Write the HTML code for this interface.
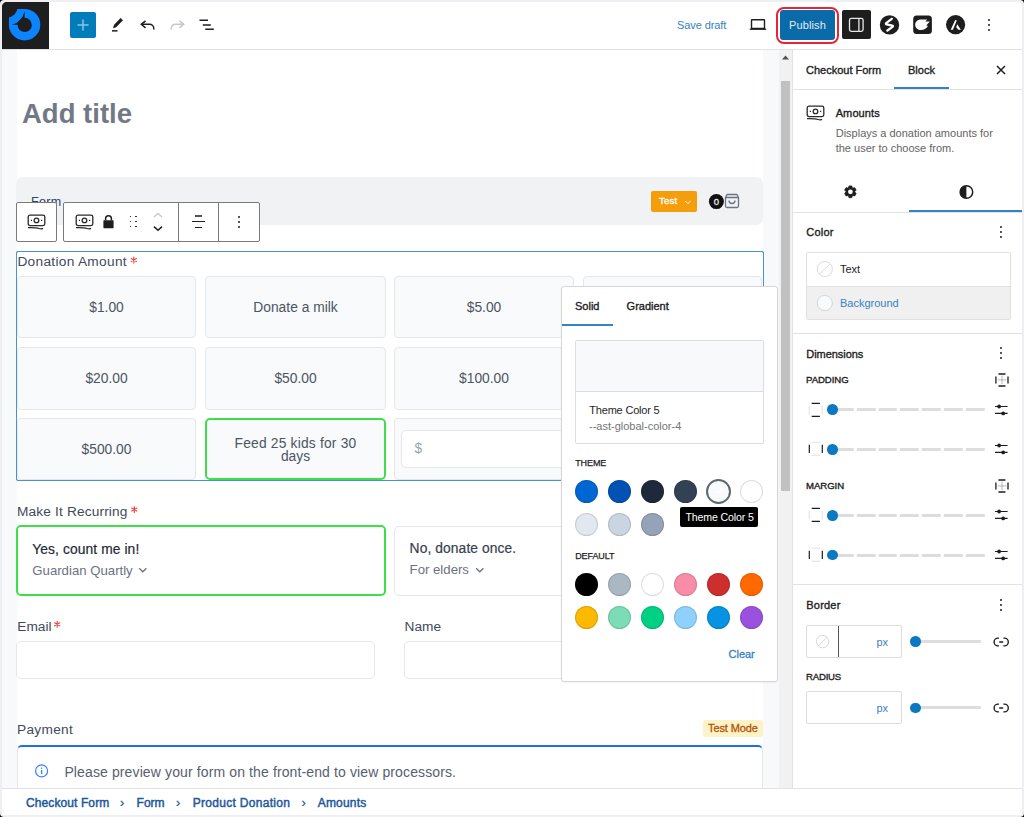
<!DOCTYPE html>
<html><head><meta charset="utf-8">
<style>
*{box-sizing:border-box;margin:0;padding:0}
html,body{width:1024px;height:817px;overflow:hidden}
body{font-family:"Liberation Sans",sans-serif;position:relative;background:#000}
.a{position:absolute}
.t{position:absolute;white-space:nowrap;line-height:1}
svg{position:absolute;overflow:visible}
</style></head><body>
<div class="a" style="left:0px;top:0px;width:1024px;height:817px;background:#efeff3;border-radius:4px"></div>
<div class="a" style="left:2px;top:2px;width:1020px;height:813px;background:#fff;border-radius:5px"></div>
<div class="a" style="left:2px;top:49px;width:1020px;height:1px;background:#e2e2e4"></div>
<svg style="left:2px;top:2px;overflow:hidden;border-top-left-radius:5px" width="47" height="47" viewBox="0 0 47 47"><rect width="47" height="47" fill="#1e1e1e"/><circle cx="22.6" cy="22.7" r="15.7" fill="#0a84ff"/><rect x="7" y="7" width="15.6" height="15.7" fill="#0a84ff"/><circle cx="5.2" cy="5.2" r="10.3" fill="#1e1e1e"/><path d="M9.8 22.7 Q19.8 20.8 22.6 9.2 L22.6 22.7 Z" fill="#1e1e1e"/><circle cx="22.7" cy="22.9" r="7.1" fill="#1e1e1e"/></svg>
<div class="a" style="left:70px;top:12px;width:26px;height:26px;background:#007cba;border-radius:2px"></div>
<svg style="left:70px;top:12px" width="26" height="26" viewBox="0 0 26 26"><path d="M13 7.5v11M7.5 13h11" stroke="#8cc4e6" stroke-width="1.5"/></svg>
<svg style="left:108px;top:14px" width="20" height="20" viewBox="0 0 20 20"><path d="M12.58 4.24 L14.62 6.16 L8.33 12.84 L5.4 14 L6.29 10.92 Z" fill="#1e1e1e" stroke="#1e1e1e" stroke-width="0.6" stroke-linejoin="round"/><rect x="4" y="16.1" width="5.5" height="1.5" fill="#1e1e1e"/></svg>
<svg style="left:138px;top:14px" width="20" height="20" viewBox="0 0 20 20"><path d="M7.5 6.8L3.3 10.3l4.2 3.5" fill="none" stroke="#1e1e1e" stroke-width="1.5"/><path d="M3.5 10.3H11.5a4.3 4.3 0 0 1 4.3 4.3V15.4" fill="none" stroke="#1e1e1e" stroke-width="1.5"/></svg>
<svg style="left:167px;top:14px" width="20" height="20" viewBox="0 0 20 20"><path d="M12.5 6.8l4.2 3.5-4.2 3.5" fill="none" stroke="#c7c7c7" stroke-width="1.5"/><path d="M16.5 10.3H8.5a4.3 4.3 0 0 0-4.3 4.3V15.4" fill="none" stroke="#c7c7c7" stroke-width="1.5"/></svg>
<svg style="left:196px;top:14px" width="22" height="22" viewBox="0 0 22 22"><path d="M3.5 6.3h8.5M6.8 11h8M9.3 15.3h8.5" stroke="#1e1e1e" stroke-width="1.5"/></svg>
<div class="t" style="left:677.0px;top:20.29px;font-size:11px;color:#3582c4;font-weight:400;letter-spacing:-0.1px;">Save draft</div>
<svg style="left:748px;top:16px" width="20" height="16" viewBox="0 0 20 16"><rect x="3.5" y="3.8" width="13" height="8.6" fill="none" stroke="#1e1e1e" stroke-width="1.4" rx="0.5"/><path d="M1.8 13.2h16.4" stroke="#1e1e1e" stroke-width="1.4"/></svg>
<div class="a" style="left:775.5px;top:6.5px;width:63px;height:37.5px;border:2.5px solid #ec2336;border-radius:8px"></div>
<div class="a" style="left:780px;top:10px;width:55px;height:30px;background:#0b6aa8;border-radius:3px"></div>
<div class="t" style="left:777.5px;width:60px;text-align:center;top:20.29px;font-size:11px;color:#e2ecf4;font-weight:400;letter-spacing:0.1px">Publish</div>
<div class="a" style="left:842px;top:10px;width:29px;height:29px;background:#1e1e1e;border-radius:2px"></div>
<svg style="left:842px;top:10px" width="29" height="29" viewBox="0 0 29 29"><rect x="7.5" y="8.3" width="13.6" height="13" rx="1.8" fill="none" stroke="#e8e8e8" stroke-width="1.3"/><path d="M16.9 8.3v13" stroke="#e8e8e8" stroke-width="1.3"/></svg>
<svg style="left:879px;top:14px" width="21" height="21" viewBox="0 0 21 21"><circle cx="10.5" cy="10.9" r="9.7" fill="#1e1e1e"/><path d="M12.8 4.8 L7.4 8.9 Q6.2 9.9 7.7 10.3 L13.2 11.6 Q14.6 12 13.5 12.9 L8.4 16.5" fill="none" stroke="#fff" stroke-width="2.3" stroke-linecap="round" stroke-linejoin="round"/></svg>
<svg style="left:912px;top:15px" width="21" height="20" viewBox="0 0 21 20"><rect x="1.2" y="0.4" width="18.7" height="18.5" rx="3.5" fill="#1e1e1e"/><path d="M3.2 9.8 C3.2 6.5 5.8 4.6 9 4.5 L15.2 4.6 L13.4 6.4 L17.8 6.4 L14.3 10.4 L16 11 C14.3 13.6 12 15.1 9.2 15.1 C5.7 15.1 3.2 13 3.2 9.8 Z" fill="#fff"/></svg>
<svg style="left:945px;top:14px" width="22" height="21" viewBox="0 0 22 21"><circle cx="10.6" cy="10.7" r="9.6" fill="#1e1e1e"/><path d="M10.2 6 L11.8 6.4 L7.9 15.8 L5.7 15.8 Z M12.2 10.2 L15.9 15.8 L13.4 15.8 L11.2 13.3 Z" fill="#fff"/></svg>
<div class="a" style="left:987.8px;top:19px;width:2px;height:2px;background:#1e1e1e;border-radius:1px"></div>
<div class="a" style="left:987.8px;top:23.7px;width:2px;height:2px;background:#1e1e1e;border-radius:1px"></div>
<div class="a" style="left:987.8px;top:28.5px;width:2px;height:2px;background:#1e1e1e;border-radius:1px"></div>
<div class="a" style="left:2px;top:50px;width:14.5px;height:738px;background:#f8f9fa"></div>
<div class="a" style="left:763px;top:50px;width:16px;height:738px;background:#f8f9fa"></div>
<div class="a" style="left:779px;top:50px;width:13px;height:738px;background:#f1f1f1"></div>
<div class="a" style="left:781px;top:81px;width:9px;height:410px;background:#c1c1c1"></div>
<svg style="left:781px;top:53px" width="9" height="8" viewBox="0 0 9 8"><path d="M4.5 2.5L8 6.5H1z" fill="#505050"/></svg>
<div class="t" style="left:22.0px;top:99.52px;font-size:27.5px;color:#717985;font-weight:700;letter-spacing:0px;">Add title</div>
<div class="a" style="left:16px;top:177px;width:747px;height:48px;background:#f1f2f4;border-radius:7px"></div>
<div class="t" style="left:31.0px;top:196.42px;font-size:12.5px;color:#2b4565;font-weight:400;letter-spacing:0.3px;">Form</div>
<div class="a" style="left:651px;top:191px;width:46px;height:21px;background:#f59e0b;border-radius:2px"></div>
<div class="t" style="left:659.0px;top:196.17px;font-size:9.6px;color:#fff;font-weight:400;letter-spacing:0.2px;-webkit-text-stroke:0.3px #fff">Test</div>
<svg style="left:683px;top:198px" width="10" height="8" viewBox="0 0 10 8"><path d="M2.3 3l2.6 2.6 2.6-2.6" fill="none" stroke="#fff" stroke-width="1"/></svg>
<svg style="left:708px;top:193px" width="33" height="17" viewBox="0 0 33 17"><circle cx="8.4" cy="8.6" r="7.5" fill="#111"/><text x="8.4" y="11.9" font-size="9.5" fill="#eee" text-anchor="middle" font-family="Liberation Sans" stroke="#eee" stroke-width="0.3">0</text><path d="M17.5 4.5 L19 1.5 H29 L30.5 4.5 V13 a1.5 1.5 0 0 1 -1.5 1.5 H19 a1.5 1.5 0 0 1 -1.5 -1.5 Z M17.5 4.5 H30.5 M21 7.5 a3 3 0 0 0 6 0" fill="none" stroke="#6b7280" stroke-width="1.3" stroke-linejoin="round"/></svg>
<div class="a" style="left:16px;top:202px;width:41px;height:40px;background:#fff;border:1px solid #7a7a7a;border-radius:2px"></div>
<div class="a" style="left:63px;top:202px;width:197px;height:40px;background:#fff;border:1px solid #7a7a7a;border-radius:2px"></div>
<div class="a" style="left:178px;top:202px;width:1px;height:40px;background:#7a7a7a"></div>
<div class="a" style="left:218px;top:202px;width:1px;height:40px;background:#7a7a7a"></div>
<svg style="left:27px;top:214px" width="18" height="16" viewBox="0 0 18 16"><rect x="1.2" y="1.2" width="16.6" height="10.4" rx="1.8" fill="none" stroke="#2a2a2a" stroke-width="1.3"/><circle cx="9.5" cy="6.4" r="2.3" fill="none" stroke="#2a2a2a" stroke-width="1.3"/><path d="M3.8 6.4h1.2M14 6.4h1.2" stroke="#2a2a2a" stroke-width="1.1"/><path d="M1 13.7 C6 13.6 10 13.8 12 14.5 C14 15.2 15.5 15 15.8 14" fill="none" stroke="#2a2a2a" stroke-width="1.2"/></svg>
<svg style="left:74.5px;top:214px" width="18" height="16" viewBox="0 0 18 16"><rect x="1.2" y="1.2" width="16.6" height="10.4" rx="1.8" fill="none" stroke="#2a2a2a" stroke-width="1.3"/><circle cx="9.5" cy="6.4" r="2.3" fill="none" stroke="#2a2a2a" stroke-width="1.3"/><path d="M3.8 6.4h1.2M14 6.4h1.2" stroke="#2a2a2a" stroke-width="1.1"/><path d="M1 13.7 C6 13.6 10 13.8 12 14.5 C14 15.2 15.5 15 15.8 14" fill="none" stroke="#2a2a2a" stroke-width="1.2"/></svg>
<svg style="left:103px;top:214px" width="11" height="15" viewBox="0 0 11 15"><path d="M2.6 6.3V4.6a2.9 2.9 0 0 1 5.8 0v1.7" fill="none" stroke="#1e1e1e" stroke-width="1.5"/><rect x=".4" y="6.2" width="10.2" height="8" rx=".6" fill="#1e1e1e"/></svg>
<div class="a" style="left:129.7px;top:215.79999999999998px;width:1.6px;height:1.6px;background:#333"></div>
<div class="a" style="left:129.7px;top:220.89999999999998px;width:1.6px;height:1.6px;background:#333"></div>
<div class="a" style="left:129.7px;top:225.89999999999998px;width:1.6px;height:1.6px;background:#333"></div>
<div class="a" style="left:135.2px;top:215.79999999999998px;width:1.6px;height:1.6px;background:#333"></div>
<div class="a" style="left:135.2px;top:220.89999999999998px;width:1.6px;height:1.6px;background:#333"></div>
<div class="a" style="left:135.2px;top:225.89999999999998px;width:1.6px;height:1.6px;background:#333"></div>
<svg style="left:152px;top:212px" width="12" height="20" viewBox="0 0 12 20"><path d="M2 5l4-3.6 4 3.6" fill="none" stroke="#c8c8c8" stroke-width="1.3"/><path d="M2 14.6l4 3.6 4-3.6" fill="none" stroke="#1e1e1e" stroke-width="1.5"/></svg>
<div class="a" style="left:194.9px;top:215px;width:7.3px;height:1.5px;background:#555"></div>
<div class="a" style="left:192px;top:220.8px;width:13px;height:1.5px;background:#1e1e1e"></div>
<div class="a" style="left:194.9px;top:226.8px;width:7.3px;height:1.5px;background:#1e1e1e"></div>
<div class="a" style="left:238.2px;top:216.1px;width:1.7px;height:1.7px;background:#1e1e1e;border-radius:1px"></div>
<div class="a" style="left:238.2px;top:221.0px;width:1.7px;height:1.7px;background:#1e1e1e;border-radius:1px"></div>
<div class="a" style="left:238.2px;top:226.0px;width:1.7px;height:1.7px;background:#1e1e1e;border-radius:1px"></div>
<div class="a" style="left:16px;top:251px;width:748px;height:230px;border:1px solid #4b93cc;border-radius:2px"></div>
<div class="t" style="left:17.4px;top:254.50px;font-size:13.7px;color:#3f4a5a;font-weight:400;letter-spacing:0.3px;">Donation Amount</div>
<svg style="left:129px;top:256px" width="8" height="8" viewBox="0 0 8 8"><g transform="translate(4.80 4.10)"><path d="M0 -3v6M-2.6 -1.5l5.2 3M-2.6 1.5l5.2 -3" stroke="#ef4444" stroke-width="1.15" stroke-linecap="round"/></g></svg>
<div class="a" style="left:17px;top:276px;width:179px;height:62px;background:#f9fafb;border:1px solid #e5e7eb;border-radius:4px"></div>
<div class="t" style="left:-43.5px;width:300px;text-align:center;top:300.72px;font-size:13.8px;color:#4b5563;font-weight:400;letter-spacing:0px">$1.00</div>
<div class="a" style="left:205px;top:276px;width:181px;height:62px;background:#f9fafb;border:1px solid #e5e7eb;border-radius:4px"></div>
<div class="t" style="left:145.5px;width:300px;text-align:center;top:300.72px;font-size:13.8px;color:#4b5563;font-weight:400;letter-spacing:0px">Donate a milk</div>
<div class="a" style="left:394px;top:276px;width:180px;height:62px;background:#f9fafb;border:1px solid #e5e7eb;border-radius:4px"></div>
<div class="t" style="left:334.0px;width:300px;text-align:center;top:300.72px;font-size:13.8px;color:#4b5563;font-weight:400;letter-spacing:0px">$5.00</div>
<div class="a" style="left:583px;top:276px;width:179px;height:62px;background:#f9fafb;border:1px solid #e5e7eb;border-radius:4px"></div>
<div class="a" style="left:17px;top:347px;width:179px;height:63px;background:#f9fafb;border:1px solid #e5e7eb;border-radius:4px"></div>
<div class="t" style="left:-43.5px;width:300px;text-align:center;top:371.72px;font-size:13.8px;color:#4b5563;font-weight:400;letter-spacing:0px">$20.00</div>
<div class="a" style="left:205px;top:347px;width:181px;height:63px;background:#f9fafb;border:1px solid #e5e7eb;border-radius:4px"></div>
<div class="t" style="left:145.5px;width:300px;text-align:center;top:371.72px;font-size:13.8px;color:#4b5563;font-weight:400;letter-spacing:0px">$50.00</div>
<div class="a" style="left:394px;top:347px;width:180px;height:63px;background:#f9fafb;border:1px solid #e5e7eb;border-radius:4px"></div>
<div class="t" style="left:334.0px;width:300px;text-align:center;top:371.72px;font-size:13.8px;color:#4b5563;font-weight:400;letter-spacing:0px">$100.00</div>
<div class="a" style="left:583px;top:347px;width:179px;height:63px;background:#f9fafb;border:1px solid #e5e7eb;border-radius:4px"></div>
<div class="a" style="left:17px;top:418px;width:179px;height:62px;background:#f9fafb;border:1px solid #e5e7eb;border-radius:4px"></div>
<div class="t" style="left:-43.5px;width:300px;text-align:center;top:442.72px;font-size:13.8px;color:#4b5563;font-weight:400;letter-spacing:0px">$500.00</div>
<div class="a" style="left:205px;top:418px;width:181px;height:62px;background:#f9fafb;border:2px solid #3ee04a;border-radius:5px"></div>
<div class="t" style="left:145.5px;width:300px;text-align:center;top:436.52px;font-size:13.8px;color:#4b5563;font-weight:400;letter-spacing:0.2px">Feed 25 kids for 30</div>
<div class="t" style="left:145.5px;width:300px;text-align:center;top:449.52px;font-size:13.8px;color:#4b5563;font-weight:400;letter-spacing:0px">days</div>
<div class="a" style="left:394px;top:418px;width:180px;height:62px;background:#f9fafb;border:1px solid #e5e7eb;border-radius:4px"></div>
<div class="a" style="left:583px;top:418px;width:179px;height:62px;background:#f9fafb;border:1px solid #e5e7eb;border-radius:4px"></div>
<div class="a" style="left:401px;top:430px;width:180px;height:38px;background:#fff;border:1px solid #e5e7eb;border-radius:5px"></div>
<div class="t" style="left:414.5px;top:441.82px;font-size:13.8px;color:#9ca3af;font-weight:400;letter-spacing:0px;">$</div>
<div class="a" style="left:16px;top:251px;width:748px;height:230px;border:1px solid #4b93cc;border-radius:2px"></div>
<div class="t" style="left:17.0px;top:504.50px;font-size:13.7px;color:#3f4a5a;font-weight:400;letter-spacing:0.15px;">Make It Recurring</div>
<svg style="left:130px;top:505px" width="8" height="8" viewBox="0 0 8 8"><g transform="translate(4.30 4.50)"><path d="M0 -3v6M-2.6 -1.5l5.2 3M-2.6 1.5l5.2 -3" stroke="#ef4444" stroke-width="1.15" stroke-linecap="round"/></g></svg>
<div class="a" style="left:16px;top:525px;width:370px;height:71px;border:2px solid #3ee04a;border-radius:5px;background:#fff"></div>
<div class="t" style="left:32.3px;top:542.62px;font-size:13.8px;color:#1f2937;font-weight:400;letter-spacing:0.1px;-webkit-text-stroke:0.2px #1f2937">Yes, count me in!</div>
<div class="t" style="left:32.3px;top:563.53px;font-size:13.2px;color:#6b7280;font-weight:400;letter-spacing:0px;">Guardian Quartly</div>
<svg style="left:137px;top:566px" width="12" height="8" viewBox="0 0 12 8"><path d="M2.2 2.2l3.6 3.6 3.6-3.6" fill="none" stroke="#6b7280" stroke-width="1.3"/></svg>
<div class="a" style="left:394px;top:526px;width:370px;height:70px;border:1px solid #e5e7eb;border-radius:5px;background:#fff"></div>
<div class="t" style="left:409.6px;top:542.32px;font-size:13.8px;color:#374151;font-weight:400;letter-spacing:0.1px;-webkit-text-stroke:0.2px #374151">No, donate once.</div>
<div class="t" style="left:409.6px;top:562.73px;font-size:13.2px;color:#6b7280;font-weight:400;letter-spacing:0px;">For elders</div>
<svg style="left:474px;top:566px" width="12" height="8" viewBox="0 0 12 8"><path d="M2.2 2.2l3.6 3.6 3.6-3.6" fill="none" stroke="#6b7280" stroke-width="1.3"/></svg>
<div class="t" style="left:17.3px;top:620.10px;font-size:13.7px;color:#3f4a5a;font-weight:400;letter-spacing:0px;">Email</div>
<svg style="left:53px;top:620px" width="8" height="8" viewBox="0 0 8 8"><g transform="translate(4.20 4.30)"><path d="M0 -3v6M-2.6 -1.5l5.2 3M-2.6 1.5l5.2 -3" stroke="#ef4444" stroke-width="1.15" stroke-linecap="round"/></g></svg>
<div class="a" style="left:16px;top:641px;width:359px;height:38px;border:1px solid #e5e7eb;border-radius:5px;background:#fff"></div>
<div class="t" style="left:404.5px;top:620.10px;font-size:13.7px;color:#3f4a5a;font-weight:400;letter-spacing:0px;">Name</div>
<div class="a" style="left:404px;top:641px;width:359px;height:38px;border:1px solid #e5e7eb;border-radius:5px;background:#fff"></div>
<div class="t" style="left:17.0px;top:723.00px;font-size:13.7px;color:#3f4a5a;font-weight:400;letter-spacing:0.3px;">Payment</div>
<div class="a" style="left:702.5px;top:720px;width:60.5px;height:17px;background:#fef3c7;border-radius:3px"></div>
<div class="t" style="left:708.0px;top:722.99px;font-size:11px;color:#b45309;font-weight:400;letter-spacing:-0.1px;-webkit-text-stroke:0.3px #b45309">Test Mode</div>
<div class="a" style="left:17px;top:745px;width:746px;height:60px;border:1px solid #e5e7eb;border-top:2px solid #1f6fe5;border-radius:5px 5px 0 0;background:#fff"></div>
<svg style="left:34px;top:764px" width="15" height="15" viewBox="0 0 15 15"><circle cx="7.6" cy="6.9" r="6" fill="none" stroke="#3b82f6" stroke-width="1.2"/><path d="M7.6 6v4" stroke="#3b82f6" stroke-width="1.4"/><circle cx="7.6" cy="4.2" r=".8" fill="#3b82f6"/></svg>
<div class="t" style="left:64.4px;top:764.95px;font-size:14px;color:#566070;font-weight:400;letter-spacing:0.12px;">Please preview your form on the front-end to view processors.</div>
<div class="a" style="left:2px;top:788px;width:1020px;height:27px;background:#fff;border-top:1px solid #e2e2e4"></div>
<div class="t" style="left:26.0px;top:797.04px;font-size:12px;color:#21579a;font-weight:400;letter-spacing:0.1px;-webkit-text-stroke:0.45px #21579a">Checkout Form</div>
<div class="t" style="left:120.0px;top:795.50px;font-size:13px;color:#21579a;font-weight:400;letter-spacing:0px;-webkit-text-stroke:0.2px #21579a">›</div>
<div class="t" style="left:136.6px;top:797.04px;font-size:12px;color:#21579a;font-weight:400;letter-spacing:0px;-webkit-text-stroke:0.45px #21579a">Form</div>
<div class="t" style="left:176.0px;top:795.50px;font-size:13px;color:#21579a;font-weight:400;letter-spacing:0px;-webkit-text-stroke:0.2px #21579a">›</div>
<div class="t" style="left:192.7px;top:797.04px;font-size:12px;color:#21579a;font-weight:400;letter-spacing:0.3px;-webkit-text-stroke:0.45px #21579a">Product Donation</div>
<div class="t" style="left:301.5px;top:795.50px;font-size:13px;color:#21579a;font-weight:400;letter-spacing:0px;-webkit-text-stroke:0.2px #21579a">›</div>
<div class="t" style="left:317.7px;top:797.04px;font-size:12px;color:#21579a;font-weight:400;letter-spacing:0.2px;-webkit-text-stroke:0.45px #21579a">Amounts</div>
<div class="a" style="left:792px;top:50px;width:230px;height:738px;background:#fff;border-left:1px solid #e2e2e4"></div>
<div class="t" style="left:806.0px;top:64.89px;font-size:11px;color:#1e1e1e;font-weight:400;letter-spacing:0px;-webkit-text-stroke:0.35px currentColor">Checkout Form</div>
<div class="t" style="left:908.0px;top:64.89px;font-size:11px;color:#1e1e1e;font-weight:400;letter-spacing:0px;-webkit-text-stroke:0.35px currentColor">Block</div>
<div class="a" style="left:894px;top:87px;width:55px;height:2px;background:#3582c4"></div>
<div class="a" style="left:793px;top:89px;width:229px;height:1px;background:#e2e2e4"></div>
<svg style="left:995px;top:64px" width="12" height="12" viewBox="0 0 12 12"><path d="M2 2l8 8M10 2l-8 8" stroke="#1e1e1e" stroke-width="1.5"/></svg>
<svg style="left:806px;top:105px" width="19" height="16" viewBox="0 0 19 16"><rect x="1.2" y="1.2" width="16.6" height="10.4" rx="1.8" fill="none" stroke="#2a2a2a" stroke-width="1.3"/><circle cx="9.5" cy="6.4" r="2.3" fill="none" stroke="#2a2a2a" stroke-width="1.3"/><path d="M3.8 6.4h1.2M14 6.4h1.2" stroke="#2a2a2a" stroke-width="1.1"/><path d="M1 13.7 C6 13.6 10 13.8 12 14.5 C14 15.2 15.5 15 15.8 14" fill="none" stroke="#2a2a2a" stroke-width="1.2"/></svg>
<div class="t" style="left:835.7px;top:107.69px;font-size:11px;color:#1e1e1e;font-weight:400;letter-spacing:0.1px;-webkit-text-stroke:0.35px currentColor">Amounts</div>
<div class="t" style="left:835.7px;top:128.29px;font-size:11px;color:#646464;font-weight:400;letter-spacing:0px;">Displays a donation amounts for</div>
<div class="t" style="left:835.7px;top:142.99px;font-size:11px;color:#646464;font-weight:400;letter-spacing:0px;">the user to choose from.</div>
<svg style="left:842px;top:184px" width="17" height="16" viewBox="0 0 17 16"><path d="M7.05 1.95 L9.75 1.95 L10.50 4.16 L12.79 3.71 L14.14 6.05 L12.60 7.80 L14.14 9.55 L12.79 11.89 L10.50 11.44 L9.75 13.65 L7.05 13.65 L6.30 11.44 L4.01 11.89 L2.66 9.55 L4.20 7.80 L2.66 6.05 L4.01 3.71 L6.30 4.16Z" fill="#1e1e1e" stroke="#1e1e1e" stroke-width="0.8" stroke-linejoin="round"/><circle cx="8.4" cy="7.8" r="2.4" fill="#fff"/></svg>
<svg style="left:958px;top:184px" width="16" height="16" viewBox="0 0 16 16"><circle cx="8.4" cy="8" r="6.3" fill="none" stroke="#1e1e1e" stroke-width="1.5"/><path d="M8.4 1.7a6.3 6.3 0 0 0 0 12.6z" fill="#1e1e1e"/></svg>
<div class="a" style="left:793px;top:212px;width:229px;height:1px;background:#e2e2e4"></div>
<div class="a" style="left:909px;top:210px;width:113px;height:2px;background:#3582c4"></div>
<div class="t" style="left:806.3px;top:226.89px;font-size:11px;color:#1e1e1e;font-weight:400;letter-spacing:0.2px;-webkit-text-stroke:0.35px currentColor">Color</div>
<div class="a" style="left:1000px;top:226.4px;width:2px;height:2px;background:#1e1e1e;border-radius:1px"></div>
<div class="a" style="left:1000px;top:231px;width:2px;height:2px;background:#1e1e1e;border-radius:1px"></div>
<div class="a" style="left:1000px;top:235.6px;width:2px;height:2px;background:#1e1e1e;border-radius:1px"></div>
<div class="a" style="left:806px;top:252px;width:205px;height:68px;border:1px solid #e0e0e0;border-radius:2px;background:#fff"></div>
<div class="a" style="left:807px;top:286px;width:203px;height:33px;background:#f0f0f0;border-top:1px solid #e0e0e0"></div>
<svg style="left:816px;top:261px" width="18" height="18" viewBox="0 0 18 18"><circle cx="8.8" cy="8" r="7.6" fill="#fff" stroke="#dcdcdc" stroke-width="1"/><path d="M3.6 13.2L14 2.8" stroke="#dcdcdc" stroke-width="1"/></svg>
<div class="t" style="left:840.0px;top:263.89px;font-size:11px;color:#1e1e1e;font-weight:400;letter-spacing:0px;">Text</div>
<svg style="left:816px;top:295px" width="18" height="18" viewBox="0 0 18 18"><circle cx="8.8" cy="8" r="7.6" fill="#f8fafc" stroke="#d6d6d6" stroke-width="1"/></svg>
<div class="t" style="left:840.0px;top:297.89px;font-size:11px;color:#3582c4;font-weight:400;letter-spacing:0px;">Background</div>
<div class="a" style="left:793px;top:333px;width:229px;height:1px;background:#e2e2e4"></div>
<div class="t" style="left:806.3px;top:348.69px;font-size:11px;color:#1e1e1e;font-weight:400;letter-spacing:-0.05px;-webkit-text-stroke:0.35px currentColor">Dimensions</div>
<div class="a" style="left:1000px;top:347.4px;width:2px;height:2px;background:#1e1e1e;border-radius:1px"></div>
<div class="a" style="left:1000px;top:352px;width:2px;height:2px;background:#1e1e1e;border-radius:1px"></div>
<div class="a" style="left:1000px;top:356.6px;width:2px;height:2px;background:#1e1e1e;border-radius:1px"></div>
<div class="t" style="left:806.0px;top:375.37px;font-size:9.6px;color:#1e1e1e;font-weight:400;letter-spacing:-0.05px;-webkit-text-stroke:0.35px currentColor">PADDING</div>
<svg style="left:993.5px;top:371.6px" width="16" height="16" viewBox="0 0 16 16"><path d="M4.9 2h6.1M4.9 14h6.1M1.9 5v6M14 5v6" stroke="#1e1e1e" stroke-width="1.3" stroke-linecap="round"/><path d="M8 3.6v8.6M3.6 7.9h8.8" stroke="#9a9a9a" stroke-width=".7"/></svg>
<svg style="left:808px;top:401.7px" width="16" height="16" viewBox="0 0 16 16"><path d="M3.7 1.3h8.2M3.7 14.3h8.2" stroke="#1e1e1e" stroke-width="1.2"/><path d="M1.2 3.5v9M14.2 3.5v9" stroke="#e0e0e0" stroke-width="1"/></svg>
<div class="a" style="left:832px;top:408.2px;width:153px;height:3px;background:repeating-linear-gradient(90deg,#dddddd 0 18.8px,#fff 18.8px 21.8px);background-position:2.8px 0"></div>
<div class="a" style="left:827.3px;top:404.4px;width:10.6px;height:10.6px;background:#0a78c2;border-radius:50%"></div>
<svg style="left:993px;top:401.7px" width="16" height="16" viewBox="0 0 16 16"><path d="M2 4.5h12.6M2 11.4h12.6" stroke="#1e1e1e" stroke-width="1.1"/><circle cx="6.1" cy="4.5" r="1.9" fill="#1e1e1e"/><circle cx="10.2" cy="11.4" r="1.9" fill="#1e1e1e"/></svg>
<svg style="left:808px;top:441.4px" width="16" height="16" viewBox="0 0 16 16"><path d="M1.3 3.7v8.2M14.3 3.7v8.2" stroke="#1e1e1e" stroke-width="1.2"/><path d="M3.5 1.2h9M3.5 14.2h9" stroke="#e0e0e0" stroke-width="1"/></svg>
<div class="a" style="left:832px;top:447.9px;width:153px;height:3px;background:repeating-linear-gradient(90deg,#dddddd 0 18.8px,#fff 18.8px 21.8px);background-position:2.8px 0"></div>
<div class="a" style="left:827.3px;top:444.09999999999997px;width:10.6px;height:10.6px;background:#0a78c2;border-radius:50%"></div>
<svg style="left:993px;top:441.4px" width="16" height="16" viewBox="0 0 16 16"><path d="M2 4.5h12.6M2 11.4h12.6" stroke="#1e1e1e" stroke-width="1.1"/><circle cx="6.1" cy="4.5" r="1.9" fill="#1e1e1e"/><circle cx="10.2" cy="11.4" r="1.9" fill="#1e1e1e"/></svg>
<div class="t" style="left:806.0px;top:481.07px;font-size:9.6px;color:#1e1e1e;font-weight:400;letter-spacing:-0.05px;-webkit-text-stroke:0.35px currentColor">MARGIN</div>
<svg style="left:993.5px;top:477.5px" width="16" height="16" viewBox="0 0 16 16"><path d="M4.9 2h6.1M4.9 14h6.1M1.9 5v6M14 5v6" stroke="#1e1e1e" stroke-width="1.3" stroke-linecap="round"/><path d="M8 3.6v8.6M3.6 7.9h8.8" stroke="#9a9a9a" stroke-width=".7"/></svg>
<svg style="left:808px;top:507.29999999999995px" width="16" height="16" viewBox="0 0 16 16"><path d="M3.7 1.3h8.2M3.7 14.3h8.2" stroke="#1e1e1e" stroke-width="1.2"/><path d="M1.2 3.5v9M14.2 3.5v9" stroke="#e0e0e0" stroke-width="1"/></svg>
<div class="a" style="left:832px;top:513.8px;width:153px;height:3px;background:repeating-linear-gradient(90deg,#dddddd 0 18.8px,#fff 18.8px 21.8px);background-position:2.8px 0"></div>
<div class="a" style="left:827.3px;top:509.99999999999994px;width:10.6px;height:10.6px;background:#0a78c2;border-radius:50%"></div>
<svg style="left:993px;top:507.29999999999995px" width="16" height="16" viewBox="0 0 16 16"><path d="M2 4.5h12.6M2 11.4h12.6" stroke="#1e1e1e" stroke-width="1.1"/><circle cx="6.1" cy="4.5" r="1.9" fill="#1e1e1e"/><circle cx="10.2" cy="11.4" r="1.9" fill="#1e1e1e"/></svg>
<svg style="left:808px;top:547.2px" width="16" height="16" viewBox="0 0 16 16"><path d="M1.3 3.7v8.2M14.3 3.7v8.2" stroke="#1e1e1e" stroke-width="1.2"/><path d="M3.5 1.2h9M3.5 14.2h9" stroke="#e0e0e0" stroke-width="1"/></svg>
<div class="a" style="left:832px;top:553.7px;width:153px;height:3px;background:repeating-linear-gradient(90deg,#dddddd 0 18.8px,#fff 18.8px 21.8px);background-position:2.8px 0"></div>
<div class="a" style="left:827.3px;top:549.9000000000001px;width:10.6px;height:10.6px;background:#0a78c2;border-radius:50%"></div>
<svg style="left:993px;top:547.2px" width="16" height="16" viewBox="0 0 16 16"><path d="M2 4.5h12.6M2 11.4h12.6" stroke="#1e1e1e" stroke-width="1.1"/><circle cx="6.1" cy="4.5" r="1.9" fill="#1e1e1e"/><circle cx="10.2" cy="11.4" r="1.9" fill="#1e1e1e"/></svg>
<div class="a" style="left:793px;top:584px;width:229px;height:1px;background:#e2e2e4"></div>
<div class="t" style="left:806.3px;top:600.09px;font-size:11px;color:#1e1e1e;font-weight:400;letter-spacing:0.2px;-webkit-text-stroke:0.35px currentColor">Border</div>
<div class="a" style="left:1000px;top:599.4px;width:2px;height:2px;background:#1e1e1e;border-radius:1px"></div>
<div class="a" style="left:1000px;top:604px;width:2px;height:2px;background:#1e1e1e;border-radius:1px"></div>
<div class="a" style="left:1000px;top:608.6px;width:2px;height:2px;background:#1e1e1e;border-radius:1px"></div>
<div class="a" style="left:806px;top:625px;width:96px;height:33px;border:1px solid #dcdcdc;border-radius:2px;background:#fff"></div>
<div class="a" style="left:838px;top:626px;width:1px;height:31px;background:#555"></div>
<svg style="left:815px;top:634px" width="16" height="16" viewBox="0 0 16 16"><circle cx="7.6" cy="7.6" r="6.2" fill="none" stroke="#d8d8d8" stroke-width="1"/><path d="M3.2 12L12 3.2" stroke="#d8d8d8" stroke-width="1"/></svg>
<div class="t" style="left:876.5px;top:636.69px;font-size:11px;color:#3582c4;font-weight:400;letter-spacing:0px;">px</div>
<div class="a" style="left:915px;top:640px;width:66px;height:3px;background:#dddddd;border-radius:1px"></div>
<div class="a" style="left:910.2px;top:636.3px;width:10.6px;height:10.6px;background:#0a78c2;border-radius:50%"></div>
<svg style="left:993px;top:633.6px" width="16" height="16" viewBox="0 0 16 16"><path d="M6 4.1H5a3.9 3.9 0 0 0 0 7.8H6M10.4 4.1h1a3.9 3.9 0 0 1 0 7.8h-1M6.2 7.95h4" fill="none" stroke="#1e1e1e" stroke-width="1.4"/></svg>
<div class="t" style="left:806.0px;top:672.47px;font-size:9.6px;color:#1e1e1e;font-weight:400;letter-spacing:-0.2px;-webkit-text-stroke:0.35px currentColor">RADIUS</div>
<div class="a" style="left:806px;top:691px;width:96px;height:33px;border:1px solid #dcdcdc;border-radius:2px;background:#fff"></div>
<div class="t" style="left:876.5px;top:702.69px;font-size:11px;color:#3582c4;font-weight:400;letter-spacing:0px;">px</div>
<div class="a" style="left:915px;top:706.3px;width:66px;height:3px;background:#dddddd;border-radius:1px"></div>
<div class="a" style="left:910.2px;top:702.5px;width:10.6px;height:10.6px;background:#0a78c2;border-radius:50%"></div>
<svg style="left:993px;top:699.8px" width="16" height="16" viewBox="0 0 16 16"><path d="M6 4.1H5a3.9 3.9 0 0 0 0 7.8H6M10.4 4.1h1a3.9 3.9 0 0 1 0 7.8h-1M6.2 7.95h4" fill="none" stroke="#1e1e1e" stroke-width="1.4"/></svg>
<div class="a" style="left:560.5px;top:285.5px;width:217px;height:396.5px;background:#fff;border:1px solid #d6d6d6;border-radius:3px;box-shadow:0 1px 2px rgba(0,0,0,.05)"></div>
<div class="t" style="left:575.0px;top:301.09px;font-size:11px;color:#1e1e1e;font-weight:400;letter-spacing:0px;-webkit-text-stroke:0.35px currentColor">Solid</div>
<div class="t" style="left:626.6px;top:301.09px;font-size:11px;color:#1e1e1e;font-weight:400;letter-spacing:0px;-webkit-text-stroke:0.35px currentColor">Gradient</div>
<div class="a" style="left:562px;top:323.5px;width:51px;height:2px;background:#3582c4"></div>
<div class="a" style="left:575px;top:339.5px;width:189px;height:104px;border:1px solid #dcdcdc;border-radius:2px;background:#fff"></div>
<div class="a" style="left:576px;top:340.5px;width:187px;height:51px;background:#f8f9fb;border-bottom:1px solid #dcdcdc"></div>
<div class="t" style="left:589.3px;top:404.79px;font-size:11px;color:#1e1e1e;font-weight:400;letter-spacing:-0.2px;">Theme Color 5</div>
<div class="t" style="left:589.0px;top:420.69px;font-size:11px;color:#757575;font-weight:400;letter-spacing:0px;">--ast-global-color-4</div>
<div class="t" style="left:575.2px;top:459.28px;font-size:9px;color:#1e1e1e;font-weight:400;letter-spacing:-0.1px;-webkit-text-stroke:0.25px #1e1e1e">THEME</div>
<div class="a" style="left:575.2px;top:479.8px;width:23px;height:23px;background:#0066d2;border-radius:50%;box-shadow:inset 0 0 0 1px rgba(0,0,0,.12)"></div>
<div class="a" style="left:608.1px;top:479.8px;width:23px;height:23px;background:#0052b4;border-radius:50%;box-shadow:inset 0 0 0 1px rgba(0,0,0,.12)"></div>
<div class="a" style="left:641.1px;top:479.8px;width:23px;height:23px;background:#1e293b;border-radius:50%;box-shadow:inset 0 0 0 1px rgba(0,0,0,.12)"></div>
<div class="a" style="left:674.2px;top:479.8px;width:23px;height:23px;background:#334155;border-radius:50%;box-shadow:inset 0 0 0 1px rgba(0,0,0,.12)"></div>
<div class="a" style="left:706.3px;top:478.8px;width:25px;height:25px;background:#f8fafc;border:2.2px solid #5c6770;border-radius:50%"></div>
<svg style="left:712.8px;top:485.3px" width="12" height="12" viewBox="0 0 12 12"><path d="M2.8 6.2l2.2 2.2 4.2-4.6" fill="none" stroke="#fff" stroke-width="1.3"/></svg>
<div class="a" style="left:740.3px;top:479.8px;width:23px;height:23px;background:#ffffff;border-radius:50%;box-shadow:inset 0 0 0 1px #dedede"></div>
<div class="a" style="left:575.2px;top:512.8px;width:23px;height:23px;background:#e2e8f0;border-radius:50%;box-shadow:inset 0 0 0 1px rgba(0,0,0,.12)"></div>
<div class="a" style="left:608.1px;top:512.8px;width:23px;height:23px;background:#cbd5e1;border-radius:50%;box-shadow:inset 0 0 0 1px rgba(0,0,0,.12)"></div>
<div class="a" style="left:641.1px;top:512.8px;width:23px;height:23px;background:#94a3b8;border-radius:50%;box-shadow:inset 0 0 0 1px rgba(0,0,0,.12)"></div>
<div class="t" style="left:575.2px;top:552.18px;font-size:9px;color:#1e1e1e;font-weight:400;letter-spacing:-0.1px;-webkit-text-stroke:0.25px #1e1e1e">DEFAULT</div>
<div class="a" style="left:575.2px;top:572.6px;width:23px;height:23px;background:#000000;border-radius:50%;box-shadow:inset 0 0 0 1px rgba(0,0,0,.12)"></div>
<div class="a" style="left:608.1px;top:572.6px;width:23px;height:23px;background:#abb8c3;border-radius:50%;box-shadow:inset 0 0 0 1px rgba(0,0,0,.12)"></div>
<div class="a" style="left:641.1px;top:572.6px;width:23px;height:23px;background:#ffffff;border-radius:50%;box-shadow:inset 0 0 0 1px #dedede"></div>
<div class="a" style="left:674.2px;top:572.6px;width:23px;height:23px;background:#f78da7;border-radius:50%;box-shadow:inset 0 0 0 1px rgba(0,0,0,.12)"></div>
<div class="a" style="left:707.3px;top:572.6px;width:23px;height:23px;background:#cf2e2e;border-radius:50%;box-shadow:inset 0 0 0 1px rgba(0,0,0,.12)"></div>
<div class="a" style="left:740.3px;top:572.6px;width:23px;height:23px;background:#ff6900;border-radius:50%;box-shadow:inset 0 0 0 1px rgba(0,0,0,.12)"></div>
<div class="a" style="left:575.2px;top:605.8px;width:23px;height:23px;background:#fcb900;border-radius:50%;box-shadow:inset 0 0 0 1px rgba(0,0,0,.12)"></div>
<div class="a" style="left:608.1px;top:605.8px;width:23px;height:23px;background:#7bdcb5;border-radius:50%;box-shadow:inset 0 0 0 1px rgba(0,0,0,.12)"></div>
<div class="a" style="left:641.1px;top:605.8px;width:23px;height:23px;background:#00d084;border-radius:50%;box-shadow:inset 0 0 0 1px rgba(0,0,0,.12)"></div>
<div class="a" style="left:674.2px;top:605.8px;width:23px;height:23px;background:#8ed1fc;border-radius:50%;box-shadow:inset 0 0 0 1px rgba(0,0,0,.12)"></div>
<div class="a" style="left:707.3px;top:605.8px;width:23px;height:23px;background:#0693e3;border-radius:50%;box-shadow:inset 0 0 0 1px rgba(0,0,0,.12)"></div>
<div class="a" style="left:740.3px;top:605.8px;width:23px;height:23px;background:#9b51e0;border-radius:50%;box-shadow:inset 0 0 0 1px rgba(0,0,0,.12)"></div>
<div class="t" style="left:728.5px;top:648.89px;font-size:11px;color:#3582c4;font-weight:400;letter-spacing:0px;-webkit-text-stroke:0.3px #3582c4">Clear</div>
<div class="a" style="left:680.3px;top:507px;width:78px;height:19.5px;background:#000;border-radius:2px"></div>
<div class="t" style="left:679.6px;width:80px;text-align:center;top:511.53px;font-size:10.6px;color:#fff;font-weight:400;letter-spacing:-0.15px">Theme Color 5</div>
</body></html>
